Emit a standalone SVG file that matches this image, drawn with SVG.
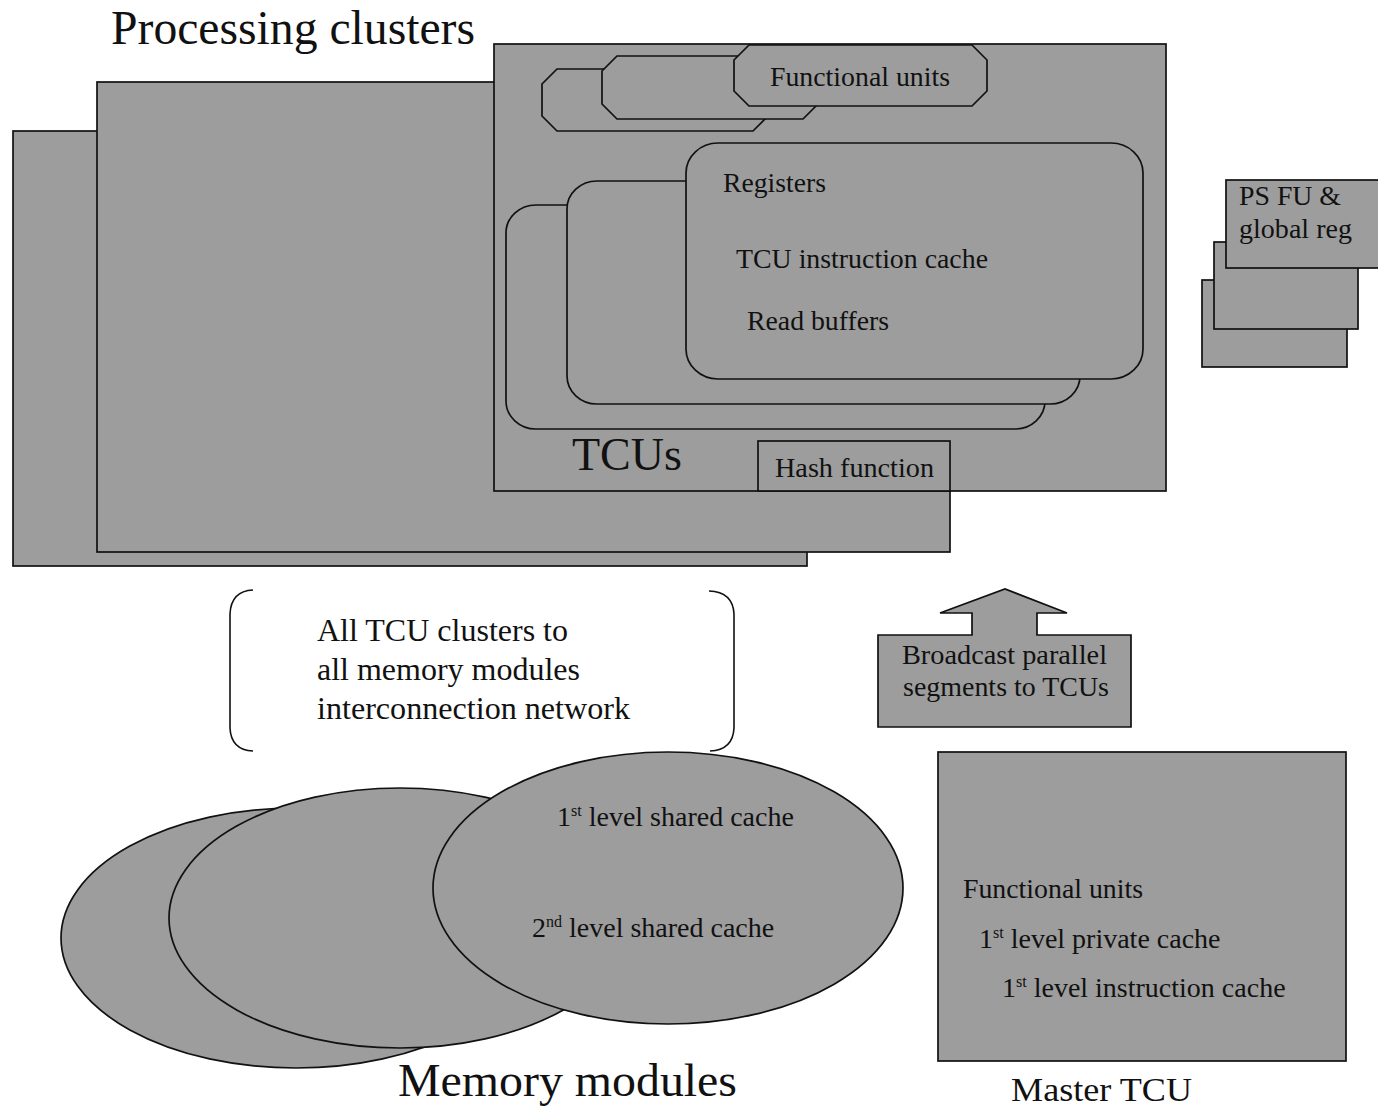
<svg xmlns="http://www.w3.org/2000/svg" width="1378" height="1109" viewBox="0 0 1378 1109">
<style>
.sh{fill:#9d9d9d;stroke:#111;stroke-width:1.7}
.ln{fill:none;stroke:#111;stroke-width:1.6}
text{font-family:'Liberation Serif','Times New Roman',Tinos,'DejaVu Serif','Noto Serif',serif;fill:#111}
.t28{font-size:28px}
.t32{font-size:32px}
.sup{font-size:16px}
</style>
<rect width="1378" height="1109" fill="#ffffff"/>
<text x="111" y="44" font-size="48" textLength="364" lengthAdjust="spacingAndGlyphs">Processing clusters</text>
<g id="cluster-back"><rect class="sh" x="13" y="131" width="794" height="435"/></g>
<g id="cluster-middle"><rect class="sh" x="97" y="82" width="853" height="470"/></g>
<g id="cluster-front">
<rect class="sh" x="494" y="44" width="672" height="447"/>
</g>
<g id="functional-units">
<polygon class="sh" points="557,69 768,69 768,116 753,131 557,131 542,116 542,84"/>
<polygon class="sh" points="617,56 818,56 818,104 803,119 617,119 602,104 602,71"/>
<polygon class="sh" points="749,45 972,45 987,60 987,91 972,106 749,106 734,91 734,60"/>
<text class="t28" x="770" y="86" textLength="180" lengthAdjust="spacingAndGlyphs">Functional units</text>
</g>
<g id="tcus">
<rect class="sh" x="506" y="205" width="539" height="224" rx="30" ry="28"/>
<rect class="sh" x="567" y="181" width="513" height="223" rx="30" ry="28"/>
<rect class="sh" x="686" y="143" width="457" height="236" rx="32" ry="30"/>
<text class="t28" x="723" y="192" textLength="103" lengthAdjust="spacingAndGlyphs">Registers</text>
<text class="t28" x="736" y="268" textLength="252" lengthAdjust="spacingAndGlyphs">TCU instruction cache</text>
<text class="t28" x="747" y="330" textLength="142" lengthAdjust="spacingAndGlyphs">Read buffers</text>
<text x="572" y="470" font-size="47" textLength="110" lengthAdjust="spacingAndGlyphs">TCUs</text>
</g>
<g id="hash-function">
<rect class="sh" x="758" y="441" width="192" height="50"/>
<text class="t28" x="775" y="477" textLength="159" lengthAdjust="spacingAndGlyphs">Hash function</text>
</g>
<g id="ps-fu">
<rect class="sh" x="1202" y="280" width="145" height="87"/>
<rect class="sh" x="1214" y="242" width="144" height="87"/>
<rect class="sh" x="1226" y="180" width="160" height="88"/>
<text class="t28" x="1239" y="205" textLength="102" lengthAdjust="spacingAndGlyphs">PS FU &amp;</text>
<text class="t28" x="1239" y="238" textLength="113" lengthAdjust="spacingAndGlyphs">global reg</text>
</g>
<g id="interconnection-network">
<path class="ln" d="M253,590 Q231,591 230,614 L230,728 Q231,750 253,751"/>
<path class="ln" d="M709,591 Q733,592 734,614 L734,728 Q733,750 710,751"/>
<text class="t32" x="317" y="641" textLength="251" lengthAdjust="spacingAndGlyphs">All TCU clusters to</text>
<text class="t32" x="317" y="680" textLength="263" lengthAdjust="spacingAndGlyphs">all memory modules</text>
<text class="t32" x="317" y="719" textLength="313" lengthAdjust="spacingAndGlyphs">interconnection network</text>
</g>
<g id="broadcast">
<polygon class="sh" points="878,635 972,635 972,613 940,613 1005,589 1067,613 1037,613 1037,635 1131,635 1131,727 878,727"/>
<text class="t28" x="902" y="664" textLength="205" lengthAdjust="spacingAndGlyphs">Broadcast parallel</text>
<text class="t28" x="903" y="696" textLength="206" lengthAdjust="spacingAndGlyphs">segments to TCUs</text>
</g>
<g id="memory-modules">
<ellipse class="sh" cx="296" cy="938" rx="235" ry="130"/>
<ellipse class="sh" cx="400" cy="918" rx="231" ry="130"/>
<ellipse class="sh" cx="668" cy="888" rx="235" ry="136"/>
<text class="t28" x="557" y="826">1<tspan class="sup" dy="-10">st</tspan><tspan dy="10"> level shared cache</tspan></text>
<text class="t28" x="532" y="937">2<tspan class="sup" dy="-10">nd</tspan><tspan dy="10"> level shared cache</tspan></text>
<text x="398" y="1096" font-size="47" textLength="339" lengthAdjust="spacingAndGlyphs">Memory modules</text>
</g>
<g id="master-tcu">
<rect class="sh" x="938" y="752" width="408" height="309"/>
<text class="t28" x="963" y="898" textLength="180" lengthAdjust="spacingAndGlyphs">Functional units</text>
<text class="t28" x="979" y="948">1<tspan class="sup" dy="-10">st</tspan><tspan dy="10"> level private cache</tspan></text>
<text class="t28" x="1002" y="997">1<tspan class="sup" dy="-10">st</tspan><tspan dy="10"> level instruction cache</tspan></text>
<text x="1011" y="1101" font-size="34" textLength="181" lengthAdjust="spacingAndGlyphs">Master TCU</text>
</g>
</svg>
